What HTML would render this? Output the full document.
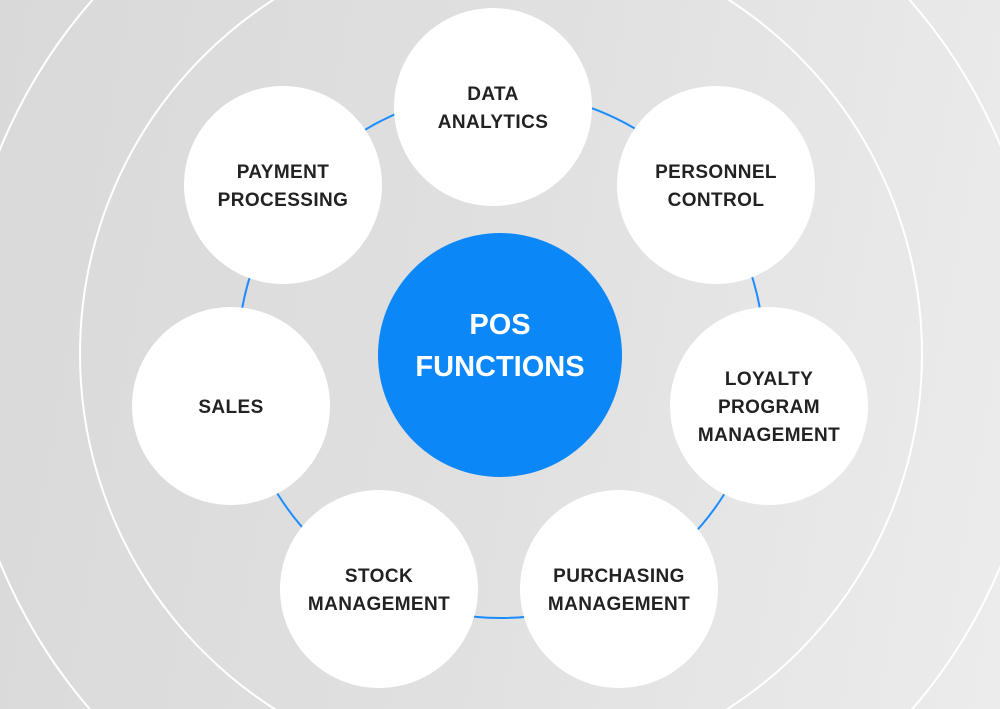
<!DOCTYPE html>
<html><head><style>
html,body{margin:0;padding:0;width:1000px;height:709px;overflow:hidden}
body{background:linear-gradient(100deg,#d9d9d9 0%,#e0e0e0 50%,#ececec 100%);}
svg{display:block}
text{font-family:"Liberation Sans",sans-serif;font-weight:bold;}
</style></head><body>
<svg width="1000" height="709" viewBox="0 0 1000 709">
<circle cx="501" cy="354" r="421" fill="none" stroke="#fff" stroke-width="2"/>
<circle cx="501" cy="356" r="542" fill="none" stroke="#fff" stroke-width="2"/>
<circle cx="501" cy="355" r="263" fill="none" stroke="#1a8cff" stroke-width="2"/>
<g fill="#fff">
<circle cx="493" cy="107" r="99"/>
<circle cx="283" cy="185" r="99"/>
<circle cx="716" cy="185" r="99"/>
<circle cx="231" cy="406" r="99"/>
<circle cx="769" cy="406" r="99"/>
<circle cx="379" cy="589" r="99"/>
<circle cx="619" cy="589" r="99"/>
</g>
<circle cx="500" cy="355" r="122" fill="#0c87f8"/>
<g fill="#222" font-size="19" letter-spacing="0.4" text-anchor="middle">
<text x="493" y="100">DATA</text><text x="493" y="128">ANALYTICS</text>
<text x="283" y="178">PAYMENT</text><text x="283" y="206">PROCESSING</text>
<text x="716" y="178">PERSONNEL</text><text x="716" y="206">CONTROL</text>
<text x="231" y="413">SALES</text>
<text x="769" y="385">LOYALTY</text><text x="769" y="413">PROGRAM</text><text x="769" y="441">MANAGEMENT</text>
<text x="379" y="582">STOCK</text><text x="379" y="610">MANAGEMENT</text>
<text x="619" y="582">PURCHASING</text><text x="619" y="610">MANAGEMENT</text>
</g>
<g fill="#fff" font-size="29" text-anchor="middle">
<text x="500" y="334">POS</text><text x="500" y="376">FUNCTIONS</text>
</g>
</svg>
</body></html>
